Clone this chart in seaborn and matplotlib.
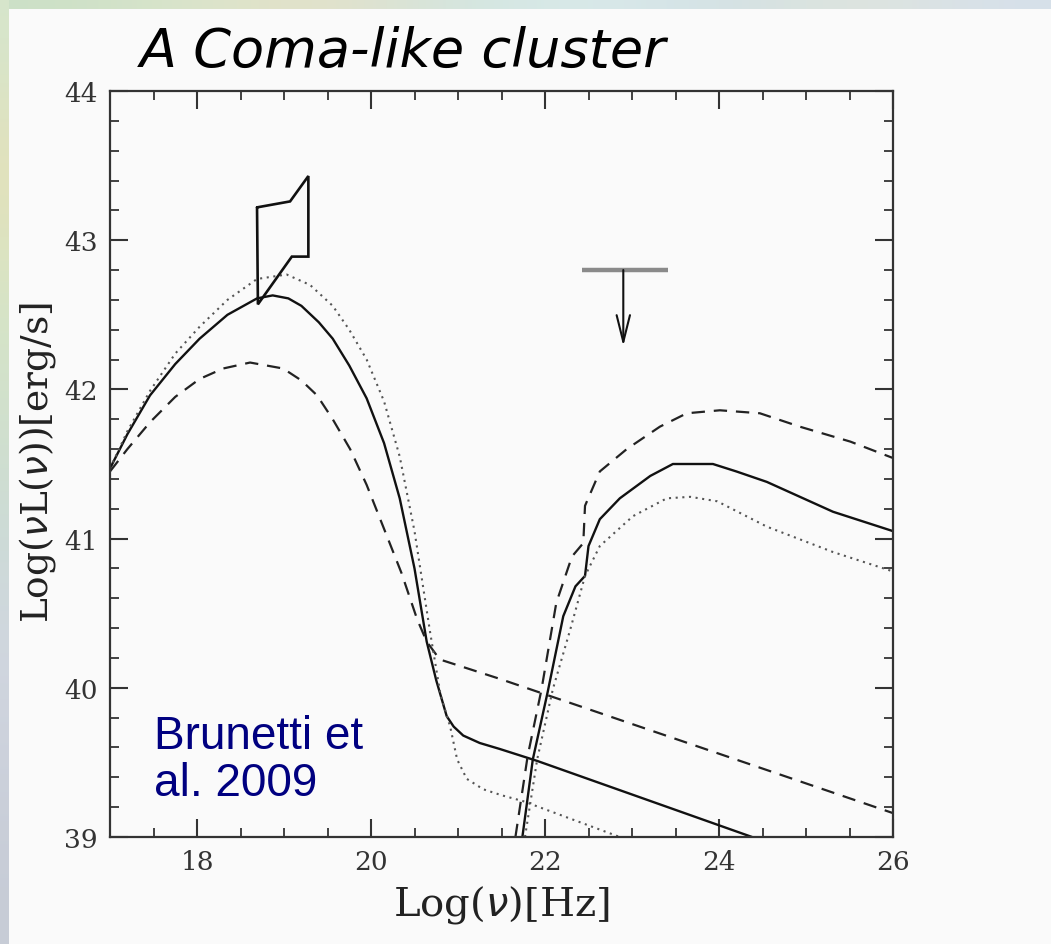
import numpy as np
import pandas as pd
import matplotlib
matplotlib.use("Agg")
import matplotlib.pyplot as plt
from matplotlib.ticker import MultipleLocator
import seaborn as sns

# ---- spectral model curves: log(nu) [Hz] vs log(nu L(nu)) [erg/s] ----
solid_low_x = [17.0, 17.2, 17.46, 17.75, 18.03, 18.35, 18.69, 18.87, 19.05, 19.2, 19.4, 19.56,
               19.75, 19.95, 20.15, 20.33, 20.5, 20.64, 20.75, 20.87, 20.95, 21.06, 21.25,
               21.48, 21.91, 24.38]
solid_low_y = [41.47, 41.70, 41.96, 42.17, 42.34, 42.50, 42.61, 42.63, 42.61, 42.56, 42.45, 42.34,
               42.16, 41.94, 41.64, 41.27, 40.80, 40.31, 40.05, 39.81, 39.74, 39.68, 39.63,
               39.59, 39.51, 39.00]

dotted_low_x = [17.0, 17.2, 17.46, 17.75, 18.03, 18.35, 18.69, 19.03, 19.3, 19.56, 19.75, 19.95,
                20.15, 20.33, 20.5, 20.68, 20.8, 20.91, 20.99, 21.1, 21.29, 21.5, 21.75, 22.86]
dotted_low_y = [41.47, 41.72, 41.99, 42.24, 42.42, 42.60, 42.74, 42.77, 42.70, 42.56, 42.40, 42.20,
                41.92, 41.55, 41.05, 40.37, 39.95, 39.74, 39.52, 39.39, 39.32, 39.28, 39.24, 39.00]

dashed_low_x = [17.0, 17.2, 17.46, 17.75, 18.03, 18.3, 18.61, 18.99, 19.2, 19.38, 19.56, 19.76,
                19.95, 20.14, 20.35, 20.53, 20.64, 20.79, 21.48, 25.85, 26.0]
dashed_low_y = [41.45, 41.60, 41.78, 41.95, 42.07, 42.14, 42.18, 42.14, 42.06, 41.96, 41.80, 41.60,
                41.36, 41.08, 40.77, 40.46, 40.31, 40.19, 40.06, 39.19, 39.16]

solid_high_x = [21.74, 21.86, 22.03, 22.21, 22.35, 22.46, 22.5, 22.63, 22.86, 23.21, 23.47, 23.93,
                24.2, 24.55, 25.31, 26.0]
solid_high_y = [39.00, 39.52, 39.97, 40.48, 40.68, 40.75, 40.95, 41.13, 41.27, 41.42, 41.50, 41.50,
                41.45, 41.38, 41.18, 41.05]

dashed_high_x = [21.66, 21.8, 21.96, 22.13, 22.31, 22.44, 22.46, 22.63, 22.94, 23.32, 23.63, 24.01,
                 24.47, 24.93, 25.51, 26.0]
dashed_high_y = [39.00, 39.54, 39.99, 40.57, 40.88, 40.97, 41.22, 41.45, 41.60, 41.75, 41.84, 41.86,
                 41.84, 41.75, 41.65, 41.54]

dotted_high_x = [21.77, 21.91, 22.09, 22.29, 22.46, 22.63, 23.01, 23.4, 23.67, 23.98, 24.55,
                 25.31, 26.0]
dotted_high_y = [39.00, 39.52, 39.99, 40.39, 40.75, 40.95, 41.15, 41.27, 41.28, 41.25, 41.08,
                 40.91, 40.78]

# hard X-ray constraint (bow-tie outline)
bowtie_x = [18.69, 19.07, 19.28, 19.28, 19.09, 18.70, 18.69]
bowtie_y = [43.22, 43.26, 43.43, 42.89, 42.89, 42.57, 43.22]

# gamma-ray upper limit
ul_x_range = [22.43, 23.41]
ul_x = 22.9
ul_y = 42.80
ul_arrow_end = 42.29

bg = "#fafafa"
sns.set_theme(style="ticks")
plt.rcParams["font.family"] = ["DejaVu Serif"]

fig = plt.figure(figsize=(10.51, 9.45), dpi=100, facecolor=bg)
ax = fig.add_axes([110 / 1051, 1 - 838 / 945, 783 / 1051, 746 / 945])
ax.set_facecolor(bg)

segments = [
    (solid_low_x, solid_low_y, "#111111", "-", 1.7),
    (dashed_low_x, dashed_low_y, "#222222", (0, (6, 4)), 1.6),
    (dotted_low_x, dotted_low_y, "#555555", (0, (1, 2.2)), 1.5),
    (solid_high_x, solid_high_y, "#111111", "-", 1.7),
    (dashed_high_x, dashed_high_y, "#222222", (0, (6, 4)), 1.6),
    (dotted_high_x, dotted_high_y, "#555555", (0, (1, 2.2)), 1.5),
]
for xs, ys, col, ls, lw in segments:
    df = pd.DataFrame({"lognu": xs, "loglum": ys})
    sns.lineplot(data=df, x="lognu", y="loglum", ax=ax, color=col, linestyle=ls,
                 linewidth=lw, sort=False, estimator=None)

ax.plot(bowtie_x, bowtie_y, color="#111111", lw=1.9, solid_joinstyle="miter")

ax.plot(ul_x_range, [ul_y, ul_y], color="#8a8a8a", lw=3.2, solid_capstyle="butt")
ax.annotate("", xy=(ul_x, ul_arrow_end), xytext=(ul_x, ul_y),
            arrowprops=dict(arrowstyle="->,head_length=1.6,head_width=0.4",
                            color="#111111", lw=1.5, shrinkA=0, shrinkB=0))

ax.set_xlim(17, 26)
ax.set_ylim(39, 44)
ax.xaxis.set_major_locator(MultipleLocator(2))
ax.xaxis.set_minor_locator(MultipleLocator(0.5))
ax.yaxis.set_major_locator(MultipleLocator(1))
ax.yaxis.set_minor_locator(MultipleLocator(0.2))
ax.tick_params(which="both", direction="in", top=True, right=True, colors="#333333")
ax.tick_params(which="major", length=13, width=1.5, labelsize=19, pad=9)
ax.tick_params(which="minor", length=6.5, width=1.3)
for s in ax.spines.values():
    s.set_color("#333333")
    s.set_linewidth(1.6)
ax.set_xlabel("")
ax.set_ylabel("")

fig.text(501 / 1051, 1 - 905 / 945, r"Log($\nu$)[Hz]", ha="center", va="center",
         fontsize=29, color="#222222", family="DejaVu Serif")
fig.text(38 / 1051, 1 - 463 / 945, r"Log($\nu$L($\nu$))[erg/s]", ha="center", va="center",
         rotation=90, fontsize=27, color="#222222", family="DejaVu Serif")

fig.text(140 / 1051, 1 - 67 / 945, "A Coma-like cluster", ha="left", va="baseline",
         fontsize=39, style="italic", color="#000000", family="DejaVu Sans")

ax.text(17.5, 39.52, "Brunetti et\nal. 2009", ha="left", va="center", fontsize=33,
        color="#000080", family="Liberation Sans", linespacing=1.1)

# faded slide border along the top and left edges
edge_top = fig.add_axes([0, 1 - 10 / 945, 1, 10 / 945])
top_cols = np.array([[0.80, 0.88, 0.78], [0.86, 0.90, 0.80], [0.90, 0.88, 0.78],
                     [0.82, 0.90, 0.88], [0.86, 0.92, 0.92], [0.82, 0.88, 0.90],
                     [0.88, 0.90, 0.86], [0.84, 0.88, 0.92]])
edge_top.imshow(top_cols[np.newaxis, :, :], aspect="auto", interpolation="bicubic")
edge_top.axis("off")
edge_left = fig.add_axes([0, 0, 9 / 1051, 1])
left_cols = np.array([[0.84, 0.90, 0.80], [0.90, 0.88, 0.72], [0.84, 0.90, 0.78],
                      [0.82, 0.88, 0.80], [0.80, 0.86, 0.84], [0.82, 0.84, 0.88],
                      [0.80, 0.82, 0.86], [0.78, 0.80, 0.84]])
edge_left.imshow(left_cols[:, np.newaxis, :], aspect="auto", interpolation="bicubic")
edge_left.axis("off")

fig.savefig("out.png", dpi=100, facecolor=bg)
